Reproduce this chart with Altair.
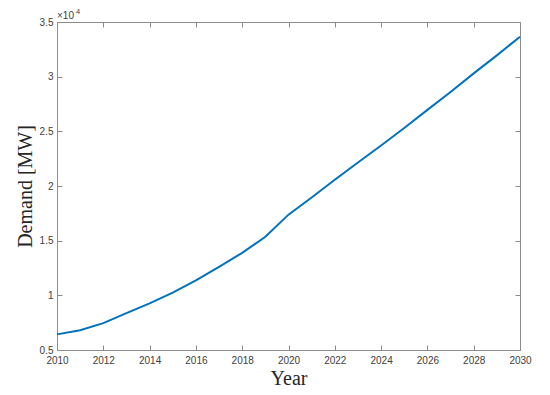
import altair as alt
import pandas as pd

years = list(range(2010, 2031))
demand = [6430, 6800, 7460, 8380, 9260, 10240, 11360, 12610, 13890, 15350,
          17380, 18950, 20570, 22150, 23700, 25300, 26960, 28600, 30300, 31950, 33650]
x_ticks = list(range(2010, 2031, 2))
y_ticks = [5000, 10000, 15000, 20000, 25000, 30000, 35000]
exponent_base = ["×10"]
exponent_power = ["4"]

df = pd.DataFrame({"Year": years, "Demand": demand})

frame_col = "#8c8c8c"
label_col = "#404040"
serif = "Liberation Serif"
sans = "Liberation Sans"

xscale = alt.Scale(domain=[2010, 2030], nice=False, zero=False)
yscale = alt.Scale(domain=[5000, 35000], nice=False, zero=False)

common = dict(domain=False, grid=False, tickColor=frame_col, tickSize=5, offset=-5,
              labelFlush=False, labelOverlap=False)

x_bottom = alt.Axis(orient="bottom", values=x_ticks, format="d", title="Year",
                    titleFont=serif, titleFontSize=20, titleFontWeight="normal",
                    titleColor="#262626", titlePadding=3,
                    labelFont=sans, labelFontSize=10, labelColor=label_col,
                    labelPadding=5, **common)
y_left = alt.Axis(orient="left", values=y_ticks, title="Demand [MW]",
                  labelExpr="toString(datum.value / 10000)",
                  titleFont=serif, titleFontSize=20, titleFontWeight="normal",
                  titleColor="#262626", titlePadding=4,
                  labelFont=sans, labelFontSize=10, labelColor=label_col,
                  labelPadding=4, **common)
x_top = alt.Axis(orient="top", values=x_ticks, labels=False, title=None, **common)
y_right = alt.Axis(orient="right", values=y_ticks, labels=False, title=None, **common)

line = alt.Chart(df).mark_line(color="#0072BD", strokeWidth=2).encode(
    x=alt.X("Year:Q", scale=xscale, axis=x_bottom),
    y=alt.Y("Demand:Q", scale=yscale, axis=y_left),
)
ghost = alt.Chart(df).mark_line(opacity=0).encode(
    x=alt.X("Year:Q", scale=xscale, axis=x_top),
    y=alt.Y("Demand:Q", scale=yscale, axis=y_right),
)

base_txt = alt.Chart(pd.DataFrame({"t": exponent_base})).mark_text(
    font=sans, fontSize=10, color=label_col, align="left", baseline="alphabetic"
).encode(text="t:N", x=alt.value(0), y=alt.value(-3))
pow_txt = alt.Chart(pd.DataFrame({"t": exponent_power})).mark_text(
    font=sans, fontSize=7.5, color=label_col, align="left", baseline="alphabetic"
).encode(text="t:N", x=alt.value(19), y=alt.value(-8))

chart = alt.layer(line, ghost, base_txt, pow_txt).resolve_axis(
    x="independent", y="independent"
).properties(
    width=463, height=328,
    autosize=alt.AutoSizeParams(type="none"),
    padding={"left": 49, "top": 14, "right": 22, "bottom": 44},
).configure_view(stroke=frame_col, strokeWidth=1)

chart.save("out.html", embed_options={"renderer": "svg", "actions": False})
